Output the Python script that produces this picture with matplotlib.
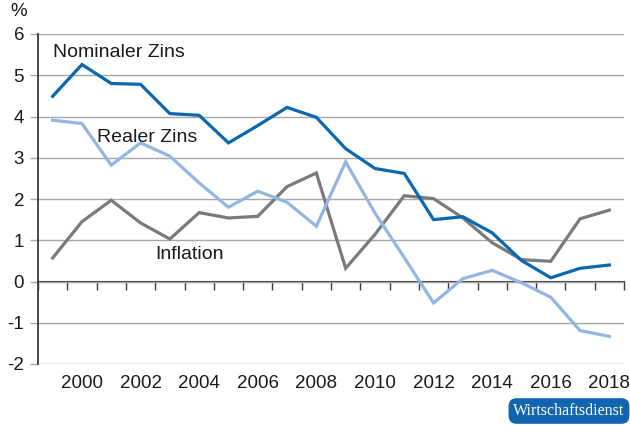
import matplotlib
matplotlib.use("Agg")
import matplotlib.pyplot as plt
import numpy as np

plt.rcParams["font.family"] = ["Liberation Sans", "DejaVu Sans"]
plt.rcParams["axes.unicode_minus"] = False

years = list(range(1999, 2019))
nominal = [4.49, 5.26, 4.80, 4.78, 4.07, 4.03, 3.36, 3.78, 4.22, 3.98,
           3.22, 2.74, 2.62, 1.50, 1.57, 1.18, 0.51, 0.09, 0.32, 0.40]
real = [3.91, 3.83, 2.82, 3.36, 3.04, 2.39, 1.80, 2.19, 1.92, 1.34,
        2.90, 1.66, 0.58, -0.52, 0.07, 0.27, -0.03, -0.38, -1.19, -1.33]
inflation = [0.57, 1.45, 1.97, 1.42, 1.03, 1.67, 1.54, 1.58, 2.30, 2.63,
             0.32, 1.14, 2.08, 2.01, 1.54, 0.94, 0.53, 0.49, 1.52, 1.73]
yticks = list(range(-2, 7))

c_nom = "#0a67b2"
c_real = "#92b5e2"
c_infl = "#7a7a7a"
c_grid = "#a8a8a8"
c_axis = "#3a3a3a"

fig = plt.figure(figsize=(6.3, 4.25), dpi=100)
ax = fig.add_axes([38 / 630, 1 - 364 / 425, 586 / 630, 330 / 425])

x = np.arange(len(years))
ax.plot(x, inflation, color=c_infl, lw=2.3, solid_joinstyle="miter")
ax.plot(x, real, color=c_real, lw=2.3, solid_joinstyle="miter")
ax.plot(x, nominal, color=c_nom, lw=2.3, solid_joinstyle="miter")

ax.set_xlim(-0.5, len(years) - 0.5)
ax.set_ylim(-2, 6)

# horizontal grid
ax.set_yticks(yticks)
ax.set_yticklabels([str(v) for v in yticks])
ax.yaxis.grid(True, color=c_grid, lw=1.0)
ax.set_axisbelow(True)
ax.tick_params(axis="y", length=6, width=1.0, color=c_grid, pad=4,
               labelsize=13.5, labelcolor="#1a1a1a")

# category labels (even years)
lab_idx = [i for i, yr in enumerate(years) if yr % 2 == 0]
ax.set_xticks(lab_idx)
ax.set_xticklabels([str(years[i]) for i in lab_idx])
ax.tick_params(axis="x", length=0, pad=8, labelsize=13.5, labelcolor="#1a1a1a")

for s in ["top", "right", "bottom"]:
    ax.spines[s].set_visible(False)
ax.spines["left"].set_color(c_axis)
ax.spines["left"].set_linewidth(1.3)

# zero line with category boundary ticks
sec = ax.secondary_xaxis(0.25)
sec.set_xticks(np.arange(-0.5, len(years), 1.0))
sec.set_xticklabels([])
sec.tick_params(axis="x", length=6, width=1.0, color=c_axis, direction="out")
sec.spines["bottom"].set_color(c_axis)
sec.spines["bottom"].set_linewidth(1.5)

fig.text(10 / 630, 1 - 12 / 425, "%", fontsize=13.5, color="#1a1a1a",
         va="center", ha="left")

ax.text(0.0, 5.55, "Nominaler Zins", fontsize=14, color="#1a1a1a",
        ha="left", va="center")
ax.text(1.5, 3.5, "Realer Zins", fontsize=14, color="#1a1a1a",
        ha="left", va="center")
ax.text(3.5, 0.65, "Inflation", fontsize=14, color="#1a1a1a",
        ha="left", va="center")

fig.text(569 / 630, 1 - 411 / 425, "Wirtschaftsdienst", fontsize=11.5,
         family=["Liberation Serif", "DejaVu Serif"], color="white",
         ha="center", va="center",
         bbox=dict(boxstyle="round,pad=0.3,rounding_size=0.5",
                   fc="#1064b0", ec="none"))

fig.savefig("out.png", dpi=100)
